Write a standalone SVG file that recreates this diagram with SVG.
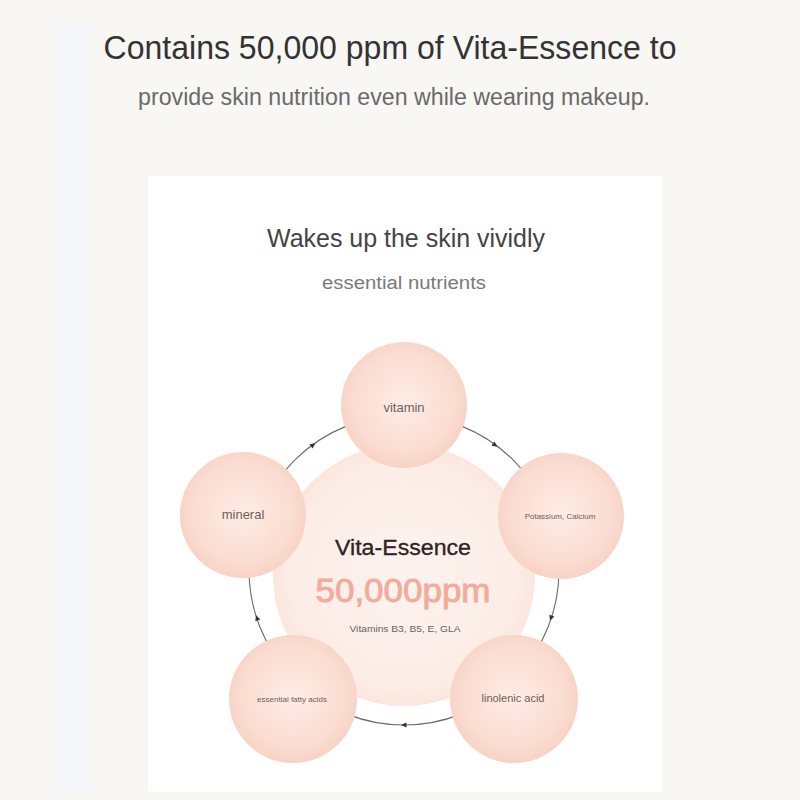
<svg xmlns="http://www.w3.org/2000/svg" xmlns:xlink="http://www.w3.org/1999/xlink" width="800" height="800" viewBox="0 0 800 800">
<style>
.t{font-family:"Liberation Sans",Arial,sans-serif;text-anchor:middle}
.lbl{font-family:"Liberation Sans",Arial,sans-serif;text-anchor:middle;fill:#6e5e5c}
.node{fill:url(#gSmall)}
.ring{fill:none;stroke:#6a6a6a;stroke-width:1.1}
.arr{fill:#333}
</style>
<defs>
<radialGradient id="gSmall" cx="50%" cy="48%" r="52%">
<stop offset="0" stop-color="#fdece5"/>
<stop offset="0.75" stop-color="#fbddd2"/>
<stop offset="1" stop-color="#f8d2c5"/>
</radialGradient>
<radialGradient id="gBig" cx="50%" cy="50%" r="50%">
<stop offset="0" stop-color="#fdf3ee"/>
<stop offset="0.85" stop-color="#fcede6"/>
<stop offset="1" stop-color="#fbe6dd"/>
</radialGradient>
<path id="tri" d="M3,0 L-2.5,-2.6 L-2.5,2.6 Z"/>
</defs>
<rect width="800" height="800" fill="#f8f7f4"/>
<rect x="55" y="22" width="36" height="770" fill="#f4f6f9"/>
<rect x="148" y="176" width="514" height="616" fill="#ffffff"/>
<g id="title">
<text class="t" x="390" y="59" font-size="33" fill="#333" textLength="573" lengthAdjust="spacingAndGlyphs">Contains 50,000 ppm of Vita-Essence to</text>
<text class="t" x="394" y="105" font-size="23" fill="#6a6a6a" textLength="512" lengthAdjust="spacingAndGlyphs">provide skin nutrition even while wearing makeup.</text>
<text class="t" x="406" y="247" font-size="25" fill="#444" textLength="278" lengthAdjust="spacingAndGlyphs">Wakes up the skin vividly</text>
<text class="t" x="404" y="289" font-size="18" fill="#7a7a7a" textLength="164" lengthAdjust="spacingAndGlyphs">essential nutrients</text>
</g>
<g id="connectors">
<circle class="ring" cx="404" cy="570" r="155"/>
<use xlink:href="#tri" class="arr" transform="translate(495,445) rotate(36)"/>
<use xlink:href="#tri" class="arr" transform="translate(551,618) rotate(108)"/>
<use xlink:href="#tri" class="arr" transform="translate(404,725) rotate(180)"/>
<use xlink:href="#tri" class="arr" transform="translate(257,618) rotate(252)"/>
<use xlink:href="#tri" class="arr" transform="translate(313,445) rotate(324)"/>
</g>
<g id="center">
<circle cx="404" cy="575" r="131" fill="url(#gBig)"/>
<text class="t" x="403" y="555" font-size="22" fill="#2e2222" stroke="#2e2222" stroke-width="0.3" textLength="136" lengthAdjust="spacingAndGlyphs">Vita-Essence</text>
<text class="t" x="403" y="602" font-size="33" fill="#f3ab9c" stroke="#f3ab9c" stroke-width="0.9" textLength="175" lengthAdjust="spacingAndGlyphs">50,000ppm</text>
<text class="t" x="405" y="632" font-size="9" fill="#6a6060" textLength="111" lengthAdjust="spacingAndGlyphs">Vitamins B3, B5, E, GLA</text>
</g>
<g id="vitamin">
<circle class="node" cx="404" cy="405" r="63"/>
<text class="lbl" x="404" y="412" font-size="13">vitamin</text>
</g>
<g id="potassium">
<circle class="node" cx="561" cy="516" r="63"/>
<text class="lbl" x="560" y="519" font-size="8">Potassium, Calcium</text>
</g>
<g id="linolenic">
<circle class="node" cx="514" cy="699" r="64"/>
<text class="lbl" x="513" y="702" font-size="11">linolenic acid</text>
</g>
<g id="fatty">
<circle class="node" cx="293" cy="699" r="64"/>
<text class="lbl" x="292" y="702" font-size="8">essential fatty acids</text>
</g>
<g id="mineral">
<circle class="node" cx="243" cy="515" r="63"/>
<text class="lbl" x="243" y="519" font-size="13">mineral</text>
</g>
</svg>
